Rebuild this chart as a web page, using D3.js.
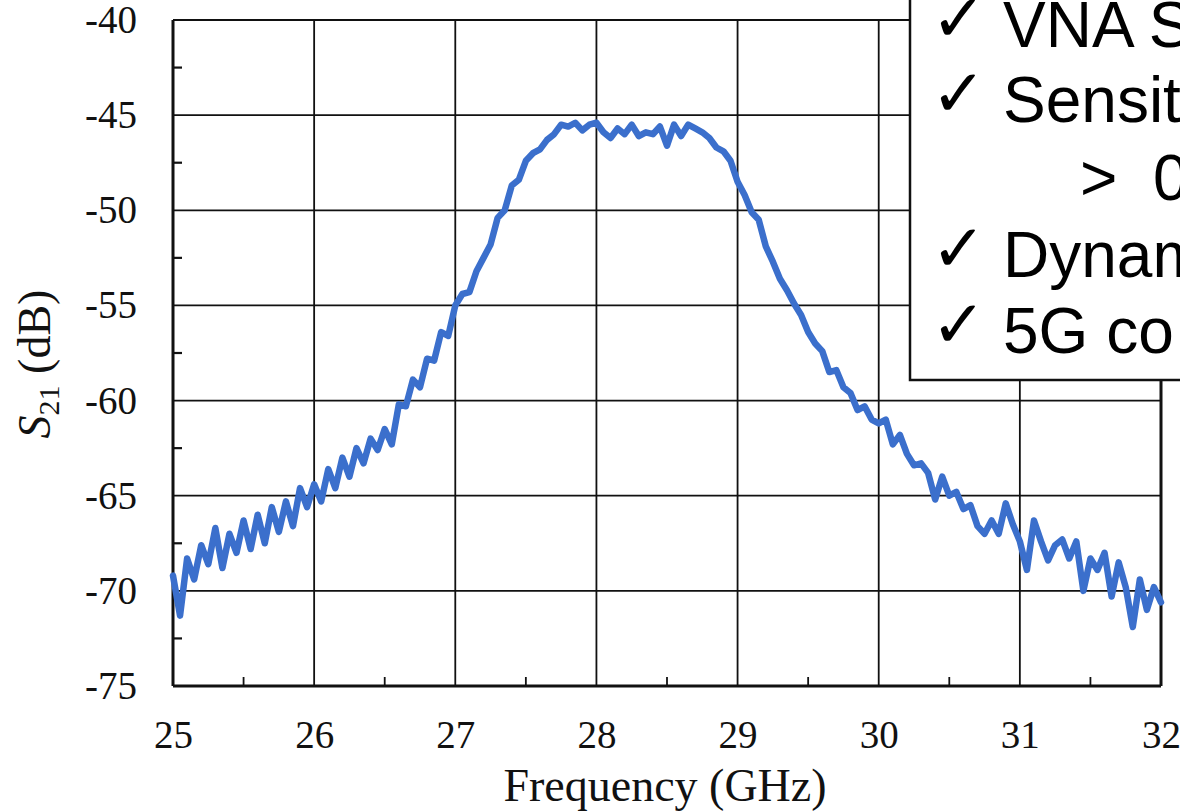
<!DOCTYPE html>
<html>
<head>
<meta charset="utf-8">
<script src="https://cdn.jsdelivr.net/npm/d3@7"></script>
<style>
  body { margin: 0; background: #fff; }
  svg { display: block; }
</style>
</head>
<body>
<script>
var svgWidth = 1180;
var svgHeight = 811;

// frequency axis (GHz)
var freqStart = 25;
var freqStep = 0.05;

// S21 (dB), every 0.05 GHz from 25 to 32 GHz
var s21 = [
    -69.2, -71.3, -68.3, -69.4, -67.6, -68.6, -66.7, -68.8, -67.0, -68.0,
    -66.3, -67.8, -66.0, -67.5, -65.6, -66.9, -65.3, -66.6, -64.6, -65.6,
    -64.4, -65.3, -63.6, -64.6, -63.0, -64.0, -62.5, -63.3, -62.0, -62.6,
    -61.5, -62.3, -60.2, -60.3, -58.9, -59.3, -57.8, -57.9, -56.4, -56.6,
    -55.0, -54.4, -54.3, -53.2, -52.5, -51.8, -50.4, -50.0, -48.7, -48.4,
    -47.4, -47.0, -46.8, -46.3, -46.0, -45.5, -45.6, -45.4, -45.8, -45.5,
    -45.4, -45.9, -46.2, -45.7, -46.0, -45.5, -46.1, -45.9, -46.0, -45.6,
    -46.6, -45.5, -46.1, -45.5, -45.7, -45.9, -46.2, -46.7, -46.9, -47.4,
    -48.5, -49.2, -50.1, -50.5, -51.9, -52.7, -53.6, -54.2, -54.9, -55.5,
    -56.4, -57.0, -57.4, -58.5, -58.4, -59.3, -59.6, -60.5, -60.3, -61.0,
    -61.2, -61.0, -62.3, -61.8, -62.8, -63.4, -63.3, -63.8, -65.2, -64.0,
    -65.0, -64.8, -65.7, -65.5, -66.6, -67.0, -66.3, -67.0, -65.4, -66.5,
    -67.4, -68.9, -66.3, -67.4, -68.4, -67.6, -67.3, -68.3, -67.4, -70.0,
    -68.3, -68.9, -68.0, -70.3, -68.5, -69.8, -71.9, -69.4, -71.0, -69.8,
    -70.6
];

var xTicks = [25, 26, 27, 28, 29, 30, 31, 32];
var xMinor = [25.5, 26.5, 27.5, 28.5, 29.5, 30.5, 31.5];
var yTicks = [-75, -70, -65, -60, -55, -50, -45, -40];
var yMinor = [-72.5, -67.5, -62.5, -57.5, -52.5, -47.5, -42.5];

// note box lines (the box runs off the right edge of the picture)
var notes = [
    { mark: true, text: "VNA S" },
    { mark: true, text: "Sensit" },
    { mark: false, text: ">\u00a0 0" },
    { mark: true, text: "Dynam" },
    { mark: true, text: "5G co" }
];

var data = s21.map(function(v, i) {
    return { f: freqStart + i * freqStep, v: v };
});

var plotLeft = 173, plotRight = 1161, plotTop = 20, plotBottom = 686;

var x = d3.scaleLinear().domain([25, 32]).range([plotLeft, plotRight]);
var y = d3.scaleLinear().domain([-75, -40]).range([plotBottom, plotTop]);

var svg = d3.select("body").append("svg")
    .attr("width", svgWidth).attr("height", svgHeight);

var serif = "'Liberation Serif', 'Times New Roman', serif";

// grid
svg.append("g").selectAll("line").data(xTicks.slice(1, -1)).join("line")
    .attr("x1", function(d) { return x(d); }).attr("x2", function(d) { return x(d); })
    .attr("y1", plotTop).attr("y2", plotBottom)
    .attr("stroke", "#111").attr("stroke-width", 1.8);

svg.append("g").selectAll("line").data(yTicks.slice(1, -1)).join("line")
    .attr("x1", plotLeft).attr("x2", plotRight)
    .attr("y1", function(d) { return y(d); }).attr("y2", function(d) { return y(d); })
    .attr("stroke", "#111").attr("stroke-width", 1.8);

// minor ticks, pointing inward
svg.append("g").selectAll("line").data(xMinor).join("line")
    .attr("x1", function(d) { return x(d); }).attr("x2", function(d) { return x(d); })
    .attr("y1", plotBottom).attr("y2", plotBottom - 9)
    .attr("stroke", "#111").attr("stroke-width", 1.8);

svg.append("g").selectAll("line").data(yMinor).join("line")
    .attr("x1", plotLeft).attr("x2", plotLeft + 9)
    .attr("y1", function(d) { return y(d); }).attr("y2", function(d) { return y(d); })
    .attr("stroke", "#111").attr("stroke-width", 2.2);

// frame
svg.append("line").attr("x1", plotLeft).attr("x2", plotRight).attr("y1", plotTop).attr("y2", plotTop)
    .attr("stroke", "#111").attr("stroke-width", 2);
svg.append("line").attr("x1", plotRight).attr("x2", plotRight).attr("y1", plotTop).attr("y2", plotBottom)
    .attr("stroke", "#111").attr("stroke-width", 3);
svg.append("line").attr("x1", plotLeft).attr("x2", plotRight).attr("y1", plotBottom).attr("y2", plotBottom)
    .attr("stroke", "#111").attr("stroke-width", 3);
svg.append("line").attr("x1", plotLeft).attr("x2", plotLeft).attr("y1", plotTop).attr("y2", plotBottom)
    .attr("stroke", "#111").attr("stroke-width", 3);

// curve
var line = d3.line()
    .x(function(d) { return x(d.f); })
    .y(function(d) { return y(d.v); });

svg.append("path").datum(data)
    .attr("d", line)
    .attr("fill", "none")
    .attr("stroke", "#3b6fcc")
    .attr("stroke-width", 6.5)
    .attr("stroke-linejoin", "round")
    .attr("stroke-linecap", "round");

// axes (labels only)
var xAxis = svg.append("g")
    .attr("transform", "translate(0," + plotBottom + ")")
    .call(d3.axisBottom(x).tickValues(xTicks).tickSize(0).tickPadding(34)
        .tickFormat(function(d) { return String(d); }));
var yAxis = svg.append("g")
    .attr("transform", "translate(" + plotLeft + ",0)")
    .call(d3.axisLeft(y).tickValues(yTicks).tickSize(0).tickPadding(36)
        .tickFormat(function(d) { return String(d); }));

[xAxis, yAxis].forEach(function(g) {
    g.select(".domain").remove();
    g.selectAll("text")
        .attr("fill", "#111")
        .style("font-family", serif)
        .style("font-size", "39px");
});

// axis titles
svg.append("text")
    .attr("x", 665).attr("y", 801)
    .attr("text-anchor", "middle")
    .style("font-family", serif).style("font-size", "46px").attr("fill", "#111")
    .text("Frequency (GHz)");

var yTitle = svg.append("text")
    .attr("transform", "translate(50,364) rotate(-90)")
    .attr("text-anchor", "middle")
    .style("font-family", serif).style("font-size", "46px").attr("fill", "#111");
yTitle.append("tspan").style("font-style", "italic").text("S");
yTitle.append("tspan").attr("dy", 9).style("font-size", "30px").text("21");
yTitle.append("tspan").attr("dy", -9).text(" (dB)");

// note box in the top right corner
svg.append("rect")
    .attr("x", 910).attr("y", -5).attr("width", 300).attr("height", 385)
    .attr("fill", "#fff").attr("stroke", "#111").attr("stroke-width", 2.5);

var baselines = [47, 122, 200, 277, 353];
var noteG = svg.append("g").selectAll("g").data(notes).join("g");

noteG.filter(function(d) { return d.mark; }).append("text")
    .attr("x", 931)
    .attr("y", function(d, i) { return baselines[notes.indexOf(d)] - 6; })
    .style("font-family", "'DejaVu Sans', sans-serif").style("font-size", "66px")
    .style("font-weight", "bold")
    .attr("fill", "#000")
    .text("\u2713");

noteG.append("text")
    .attr("x", function(d) { return d.mark ? 1003 : 1080; })
    .attr("y", function(d, i) { return baselines[i]; })
    .style("font-family", "'Liberation Sans', Arial, sans-serif").style("font-size", "64px")
    .attr("fill", "#000")
    .text(function(d) { return d.text; });
</script>
</body>
</html>
